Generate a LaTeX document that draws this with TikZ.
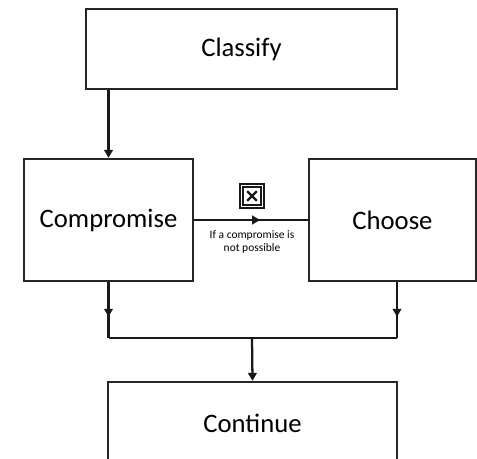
\documentclass[tikz,border=0pt]{standalone}
\usepackage{fontspec}
\setmainfont{Carlito}
\usetikzlibrary{arrows.meta,decorations.markings}
\begin{document}
\begin{tikzpicture}[x=0.75pt,y=-0.75pt,
  box/.style={draw=black!85,line width=1.7pt,fill=white,rectangle,inner sep=0pt,font=\fontsize{20}{24}\selectfont},
  conn/.style={draw=black!90,line width=1.7pt},
  tipend/.style={-{Triangle[width=6.5pt,length=6pt]}},
  midarr/.style={postaction={decorate},decoration={markings,mark=at position #1 with {\arrow{Triangle[width=6.5pt,length=6pt]}}}},
  small/.style={font=\fontsize{8.6}{9.6}\selectfont,align=center,inner sep=0pt}]
\useasboundingbox (0,0) rectangle (477,459);
\clip (0,0) rectangle (477,459);
\node[box,minimum width=233.25pt,minimum height=60pt] (classify) at (241.5,49) {Classify};
\node[box,minimum width=126.75pt,minimum height=91.5pt] (comp) at (108.5,220) {Compromise};
\node[box,minimum width=125.25pt,minimum height=91.5pt] (choose) at (392.5,220) {Choose};
\node[box,minimum width=216.75pt,minimum height=61.5pt] (cont) at (252.5,423) {Continue};
\coordinate (jl) at (108.5,338);
\coordinate (jr) at (397,338);
\coordinate (jm) at (252,338);
% connectors
\draw[conn,tipend] (classify.south -| comp.north) -- (comp.north);
\draw[conn,midarr=0.58] (comp.east) -- (choose.west);
\draw[conn,midarr=0.62] (comp.south) -- (jl);
\draw[conn,midarr=0.62] (jr |- choose.south) -- (jr);
\draw[conn] (jl) -- (jr);
\draw[conn,tipend] (jm) -- (cont.north);
% icon
\node[draw=black!90,line width=1.5pt,double distance=0.8pt,minimum size=15.5pt,inner sep=0pt] (xbox) at (252,196) {};
\draw[black!90,line width=1.7pt] ([shift={(-3.6pt,3.6pt)}]xbox.center) -- ([shift={(3.6pt,-3.6pt)}]xbox.center);
\draw[black!90,line width=1.7pt] ([shift={(-3.6pt,-3.6pt)}]xbox.center) -- ([shift={(3.6pt,3.6pt)}]xbox.center);
\node[small] (lbl) at (252,242) {If a compromise is\\not possible};
\end{tikzpicture}
\end{document}
